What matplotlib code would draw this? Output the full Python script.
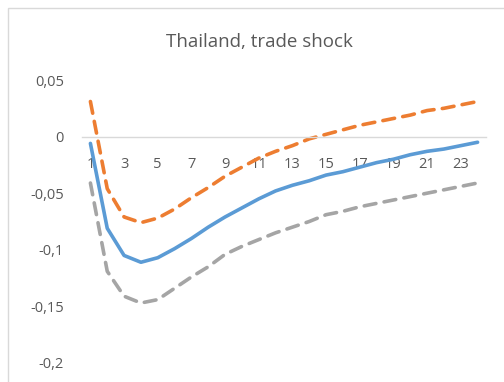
import matplotlib
matplotlib.use("Agg")
import matplotlib.pyplot as plt
from matplotlib.patches import Rectangle
from matplotlib.ticker import FuncFormatter

# horizons 1..24
periods = list(range(1, 25))

# point estimate (solid blue)
irf = [-0.006, -0.081, -0.105, -0.111, -0.107, -0.099, -0.090, -0.080,
       -0.071, -0.063, -0.055, -0.048, -0.043, -0.039, -0.034, -0.031,
       -0.027, -0.023, -0.020, -0.016, -0.013, -0.011, -0.008, -0.005]

# upper band (dashed orange)
upper = [0.031, -0.046, -0.071, -0.076, -0.072, -0.064, -0.054, -0.045,
         -0.035, -0.027, -0.019, -0.013, -0.008, -0.002, 0.002, 0.006,
         0.010, 0.013, 0.016, 0.019, 0.023, 0.025, 0.028, 0.031]

# lower band (dashed gray)
lower = [-0.041, -0.119, -0.141, -0.147, -0.144, -0.134, -0.124, -0.115,
         -0.104, -0.097, -0.091, -0.085, -0.080, -0.075, -0.069, -0.066,
         -0.062, -0.059, -0.056, -0.053, -0.050, -0.047, -0.044, -0.041]

y_ticks = [0.05, 0.0, -0.05, -0.1, -0.15, -0.2]
title = "Thailand, trade shock"

txt_color = "#595959"
plt.rcParams['font.family'] = ['Open Sans', 'DejaVu Sans']

fig = plt.figure(figsize=(5.04, 3.82), dpi=100)
W, H = 504, 382

# chart border (cut off on the right and bottom like the screenshot)
fig.patches.append(Rectangle((8 / W, -0.1), 1.0, 1.1 - 8 / H,
                             transform=fig.transFigure, fill=False,
                             edgecolor="#d9d9d9", linewidth=1.0))

ax = fig.add_axes([82 / W, 1 - 363 / H, (486 - 82) / W, (363 - 80) / H])

dash = (0, (3.3, 2.3))
ax.plot(periods, irf, color="#5B9BD5", linewidth=2.6, solid_capstyle="round")
ax.plot(periods, upper, color="#ED7D31", linewidth=2.6, linestyle=dash,
        dash_capstyle="round")
ax.plot(periods, lower, color="#A5A5A5", linewidth=2.6, linestyle=dash,
        dash_capstyle="round")

ax.set_xlim(0.5, 24.5)
ax.set_ylim(-0.2, 0.05)
ax.set_xticks(periods[::2])
ax.set_yticks(y_ticks)
ax.yaxis.set_major_formatter(FuncFormatter(
    lambda v, p: "0" if abs(v) < 1e-9 else ("%g" % round(v, 3)).replace(".", ",")))

for s in ["top", "right", "left"]:
    ax.spines[s].set_visible(False)
ax.spines["bottom"].set_position(("data", 0))
ax.spines["bottom"].set_color("#d9d9d9")
ax.spines["bottom"].set_linewidth(1.0)

ax.tick_params(axis="x", length=0, pad=15, labelsize=10.5, colors=txt_color)
ax.tick_params(axis="y", length=0, pad=13, labelsize=10.5, colors=txt_color)

fig.text(259 / W, 1 - 42 / H, title, ha="center", va="center",
         fontsize=13.5, color=txt_color)

fig.savefig("out.png", dpi=100)
